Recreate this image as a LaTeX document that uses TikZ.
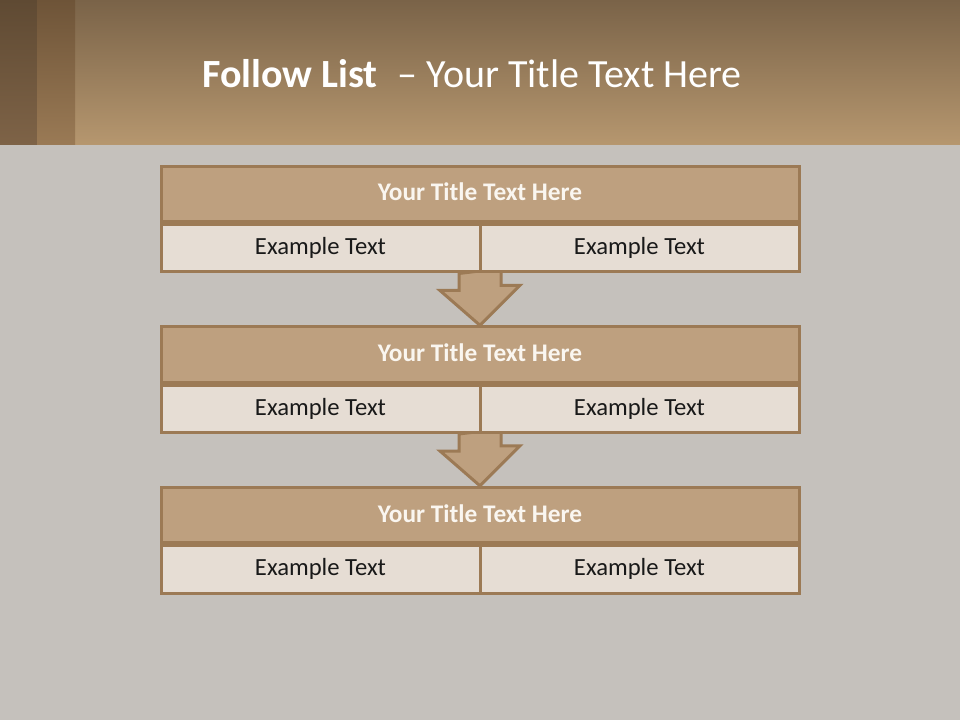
\documentclass[tikz,border=0pt]{standalone}
\usepackage{fontspec}
\setmainfont{Carlito}
\usetikzlibrary{positioning}

\definecolor{stone}{HTML}{C5C1BC}
\definecolor{headtop}{HTML}{7A6348}
\definecolor{headbot}{HTML}{B6976F}
\definecolor{stripdark}{HTML}{5F4A33}
\definecolor{stripdarkbot}{HTML}{7E6347}
\definecolor{stripmid}{HTML}{6E5438}
\definecolor{stripmidbot}{HTML}{9A7A55}
\definecolor{tan}{HTML}{BEA07F}
\definecolor{edge}{HTML}{9C7A55}
\definecolor{cream}{HTML}{E6DDD4}
\definecolor{titletext}{HTML}{FAF6F0}

\pgfdeclarelayer{front}
\pgfsetlayers{main,front}

\begin{document}
\begin{tikzpicture}[
    x=0.75pt, y=-0.75pt,
    titlebox/.style={rectangle, draw=edge, fill=tan, line width=2.25pt,
                     minimum width=478.5pt, minimum height=41.5pt, inner sep=0pt,
                     font=\fontsize{19}{22}\selectfont\bfseries, text=titletext,
                     text height=1.05em, text depth=0pt},
    cellbox/.style={rectangle, draw=edge, fill=cream, line width=2.25pt,
                    minimum width=239.25pt, minimum height=35.5pt, inner sep=0pt,
                    font=\fontsize{18.5}{22}\selectfont, text=black!90,
                    text height=0.95em, text depth=0pt},
    blockarrow/.style={draw=edge, fill=tan, line width=2.25pt, line join=miter}
  ]
    \useasboundingbox (0,0) rectangle (960,720);

    % backdrop and header band
    \fill[stone] (0,0) rectangle (960,720);
    \shade[top color=headtop, bottom color=headbot] (0,0) rectangle (960,145);
    \shade[top color=stripdark, bottom color=stripdarkbot] (0,0) rectangle (37,145);
    \shade[top color=stripmid, bottom color=stripmidbot] (37,0) rectangle (75,145);

    \node[anchor=base, text=white, font=\fontsize{30}{36}\selectfont] (head) at (472,88)
      {\textbf{Follow List}\enspace– Your Title Text Here};

    \begin{pgfonlayer}{front}
    \node[titlebox] (t1) at (480,194) {Your Title Text Here};
    \node[cellbox, anchor=north west] (l1) at (t1.south west) {Example Text};
    \node[cellbox, anchor=north east] (r1) at (t1.south east) {Example Text};

    \node[titlebox] (t2) at (480,354.5) {Your Title Text Here};
    \node[cellbox, anchor=north west] (l2) at (t2.south west) {Example Text};
    \node[cellbox, anchor=north east] (r2) at (t2.south east) {Example Text};

    \node[titlebox] (t3) at (480,515) {Your Title Text Here};
    \node[cellbox, anchor=north west] (l3) at (t3.south west) {Example Text};
    \node[cellbox, anchor=north east] (r3) at (t3.south east) {Example Text};
    \end{pgfonlayer}

    % down arrows between the blocks
    \draw[blockarrow] (t1.south |- l1.south) ++(-21,0) -- ++(0,17) -- ++(-19,0)
      -- (t2.north) -- ++(40,-40) -- ++(-19,0) -- ++(0,-17) -- cycle;
    \draw[blockarrow] (t2.south |- l2.south) ++(-21,0) -- ++(0,17) -- ++(-19,0)
      -- (t3.north) -- ++(40,-40) -- ++(-19,0) -- ++(0,-17) -- cycle;
  \end{tikzpicture}
\end{document}
